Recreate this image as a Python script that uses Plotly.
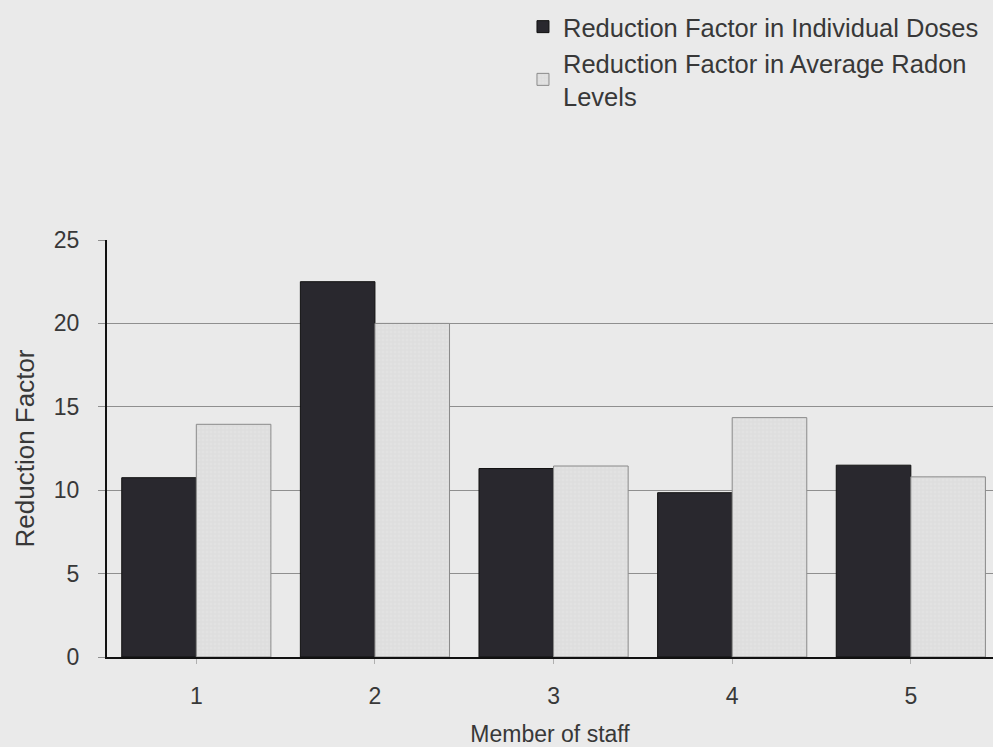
import plotly.graph_objects as go

staff = [1, 2, 3, 4, 5]
tick_labels = ["1", "2", "3", "4", "5"]
individual_doses = [10.75, 22.5, 11.3, 9.85, 11.5]
average_radon = [13.95, 20.0, 11.45, 14.35, 10.8]

name_doses = "Reduction Factor in Individual Doses"
name_radon = "Reduction Factor in Average Radon<br>Levels"

FONT = "Liberation Sans, Arial, sans-serif"
TXT = "#383838"
BG = "#eaeaea"

fig = go.Figure()
fig.add_trace(go.Bar(
    x=staff, y=individual_doses, name=name_doses,
    marker=dict(color="#29282e", line=dict(color="#111111", width=1)),
))
fig.add_trace(go.Bar(
    x=staff, y=average_radon, name=name_radon,
    marker=dict(color="#e2e2e2", line=dict(color="#8a8a8a", width=1),
                pattern=dict(shape="+", size=4, solidity=0.15,
                             fgcolor="#c4c4c4", bgcolor="#e2e2e2")),
))

fig.update_layout(
    width=993, height=747,
    margin=dict(l=107, r=0, t=240, b=90),
    paper_bgcolor=BG, plot_bgcolor=BG,
    barmode="group", bargap=0.165, bargroupgap=0,
    font=dict(family=FONT, size=23, color=TXT),
    showlegend=True,
    legend=dict(
        x=0.4695, y=1.567, xanchor="left", yanchor="top",
        bgcolor="rgba(0,0,0,0)", font=dict(size=25.5, color=TXT),
        traceorder="normal", itemwidth=30,
    ),
    xaxis=dict(
        range=[0.5, 5.46], tickmode="array", tickvals=staff, ticktext=tick_labels,
        showgrid=False, zeroline=False,
        showline=True, linecolor="#111111", linewidth=2,
        ticks="outside", ticklen=5, tickcolor="#b0b0b0", tickwidth=1,
        ticklabelstandoff=12,
        tickfont=dict(size=23, color=TXT),
        title=dict(text="Member of staff", font=dict(size=23, color=TXT), standoff=22),
    ),
    yaxis=dict(
        range=[0, 25], tickvals=[0, 5, 10, 15, 20, 25],
        showgrid=True, gridcolor="#8f8f8f", gridwidth=1,
        zeroline=False,
        showline=True, linecolor="#111111", linewidth=2,
        ticks="outside", ticklen=7, tickcolor="#8f8f8f", tickwidth=1,
        ticklabelstandoff=14,
        tickfont=dict(size=23, color=TXT),
        title=dict(text="Reduction Factor", font=dict(size=26, color=TXT), standoff=12),
    ),
)

fig.write_html(
    "out.html",
    config={"displayModeBar": False},
    post_script="document.body.style.margin='0';document.body.style.padding='0';"
                "document.body.style.background='#eaeaea';"
                "document.documentElement.style.overflow='hidden';",
)
